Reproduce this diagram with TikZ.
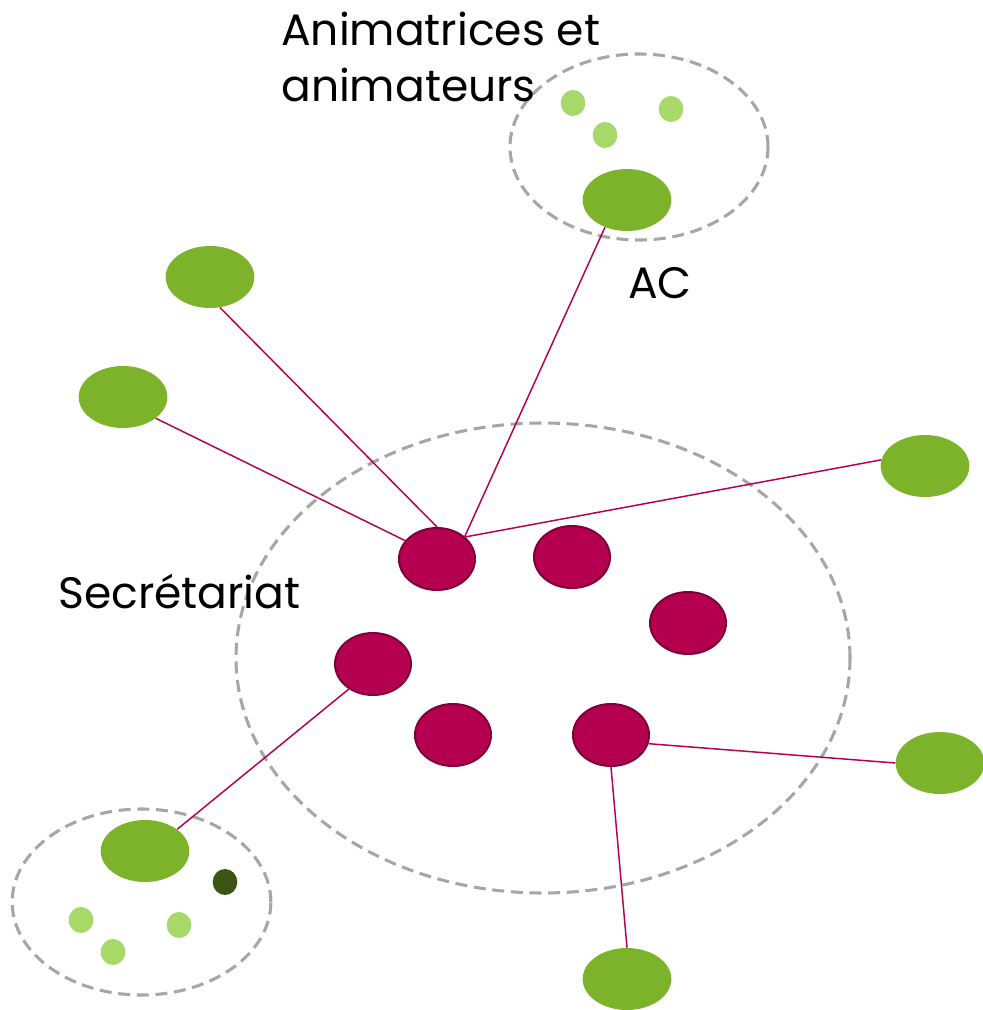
\documentclass[tikz,border=0pt]{standalone}
\usepackage{fontspec}
\setmainfont{Poppins}
\usetikzlibrary{shapes.geometric}
\definecolor{grn}{HTML}{7DB32A}
\definecolor{lgrn}{HTML}{A8D868}
\definecolor{dgrn}{HTML}{3B5614}
\definecolor{mag}{HTML}{B5004F}
\definecolor{magd}{HTML}{7E0038}
\definecolor{dashgray}{HTML}{A6A6A6}
\tikzset{
  group/.style={draw=dashgray, line width=2.3pt, dash pattern=on 9pt off 5pt, ellipse, inner sep=0pt},
  bignode/.style={ellipse, fill=grn, draw=none, minimum width=66.5pt, minimum height=46.5pt, inner sep=0pt},
  small/.style={ellipse, fill=lgrn, draw=none, minimum width=18.5pt, minimum height=19.5pt, inner sep=0pt},
  dsmall/.style={ellipse, fill=dgrn, draw=none, minimum width=18.5pt, minimum height=19.5pt, inner sep=0pt},
  secr/.style={ellipse, fill=mag, draw=magd, line width=1.5pt, minimum width=57pt, minimum height=46.5pt, inner sep=0pt},
  link/.style={draw=mag, line width=1.1pt},
  lbl/.style={anchor=base west, inner sep=0pt, font=\fontsize{33}{40}\selectfont, text=black}
}
\begin{document}
\begin{tikzpicture}[x=0.75pt,y=-0.75pt]
\useasboundingbox (0,0) rectangle (982,1010);
% dashed groups
\node[group, minimum width=193.5pt, minimum height=139.5pt] (topgrp) at (639,147) {};
\node[group, minimum width=460.5pt, minimum height=352.5pt] (maingrp) at (543,658) {};
\node[group, minimum width=194pt, minimum height=139.5pt] (botgrp) at (141.5,902) {};
% green nodes
\node[bignode] (gtop) at (627,200) {};
\node[bignode] (g1) at (210,277) {};
\node[bignode] (g2) at (123,397) {};
\node[bignode] (g3) at (925,466) {};
\node[bignode] (g4) at (940,763) {};
\node[bignode] (g5) at (627,979) {};
\node[bignode] (gbot) at (145,851) {};
% small dots
\node[small] (s1) at (573,103) {};
\node[small] (s2) at (605,135) {};
\node[small] (s3) at (671,109) {};
\node[small] (s4) at (81,920) {};
\node[small] (s5) at (113,952) {};
\node[small] (s6) at (179,925) {};
\node[dsmall] (s7) at (225,882) {};
% secretariat nodes
\node[secr] (A) at (437,559) {};
\node[secr] (B) at (572,557) {};
\node[secr] (C) at (688,623) {};
\node[secr] (D) at (373,664) {};
\node[secr] (E) at (453,735) {};
\node[secr] (F) at (611,735) {};
% links
\draw[link] (A.90) -- (g1.-72);
\draw[link] (A.150) -- (g2.-33);
\draw[link] (A.39) -- (gtop.-129);
\draw[link] (A.38) -- (g3.172);
\draw[link] (D.-134) -- (gbot.34);
\draw[link] (F.-13) -- (g4.180);
\draw[link] (F.270) -- (g5.90);
% labels
\node[lbl] (t1) at (281,45) {Animatrices et};
\node[lbl] (t2) at (281,101) {animateurs};
\node[lbl] (t3) at (628,298) {AC};
\node[lbl] (t4) at (58,608) {Secrétariat};
\end{tikzpicture}
\end{document}
